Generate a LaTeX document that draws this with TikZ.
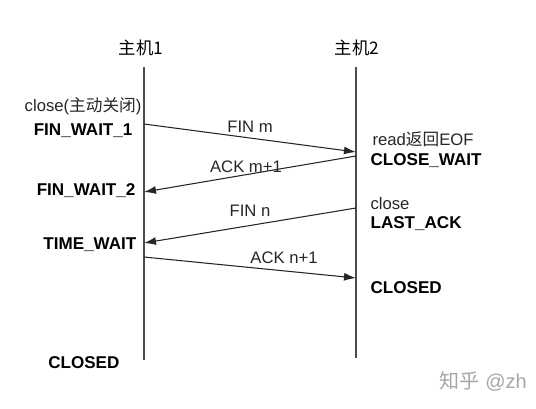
\documentclass[tikz,border=0pt]{standalone}
\usepackage{fontspec}
\setmainfont{Liberation Sans}
\newfontfamily\cjk{Noto Sans CJK SC}
\usetikzlibrary{arrows.meta,positioning}

\begin{document}
\begin{tikzpicture}[x=0.75pt,y=-0.75pt,
      lbl/.style={font=\fontsize{12.5}{14}\selectfont, text=black!85, inner sep=1pt},
      state/.style={font=\fontsize{12.8}{14}\selectfont\bfseries, inner sep=1pt},
      host/.style={font=\fontsize{13}{15}\selectfont\cjk, inner sep=1pt},
      lifeline/.style={draw=black!70, line width=0.8pt},
      msg/.style={draw=black!85, line width=0.8pt, -{Latex[length=9pt,width=6pt]}}]
   \useasboundingbox (0,0) rectangle (536,408);

   % hosts and their lines
   \node[host] (host1) at (141,48) {主机1};
   \node[host] (host2) at (357,48) {主机2};
   \coordinate (h1top) at (144,67);
   \coordinate (h1bot) at (144,360);
   \coordinate (h2top) at (356,67);
   \coordinate (h2bot) at (356,358);
   \draw[lifeline] (h1top) -- (h1bot);
   \draw[lifeline] (h2top) -- (h2bot);

   % states of host 1
   \node[lbl, anchor=east] (close1) at (143,106) {close({\cjk 主动关闭})};
   \node[state, anchor=east] (fw1) at (134,131) {FIN\_WAIT\_1};
   \node[state, anchor=east] (fw2) at (137,191) {FIN\_WAIT\_2};
   \node[state, anchor=east] (tw) at (138,245) {TIME\_WAIT};
   \node[state, anchor=east] (closed1) at (121,363) {CLOSED};

   % states of host 2
   \node[lbl, anchor=west] (eof) at (371,139) {read{\cjk 返回}EOF};
   \node[state, anchor=west] (cw) at (369,161) {CLOSE\_WAIT};
   \node[lbl, anchor=west] (close2) at (369,204) {close};
   \node[state, anchor=west] (la) at (369,224) {LAST\_ACK};
   \node[state, anchor=west] (closed2) at (369,288) {CLOSED};

   % message end points
   \coordinate (m1a) at (144,124);
   \coordinate (m1b) at (356,152);
   \coordinate (m2a) at (356,156);
   \coordinate (m2b) at (144,192);
   \coordinate (m3a) at (356,208);
   \coordinate (m3b) at (144,243);
   \coordinate (m4a) at (144,257);
   \coordinate (m4b) at (356,278);

   \draw[msg] (m1a) -- (m1b);
   \draw[msg] (m2a) -- (m2b);
   \draw[msg] (m3a) -- (m3b);
   \draw[msg] (m4a) -- (m4b);

   \node[lbl] (finm) at (250,127) {FIN m};
   \node[lbl] (ackm) at (246,167) {ACK m+1};
   \node[lbl] (finn) at (250,211) {FIN n};
   \node[lbl] (ackn) at (284,258) {ACK n+1};

   \node[font=\fontsize{15}{17}\selectfont, text=black!35, anchor=west] (mark) at (435,381) {{\cjk 知乎} @zh};
\end{tikzpicture}
\end{document}
